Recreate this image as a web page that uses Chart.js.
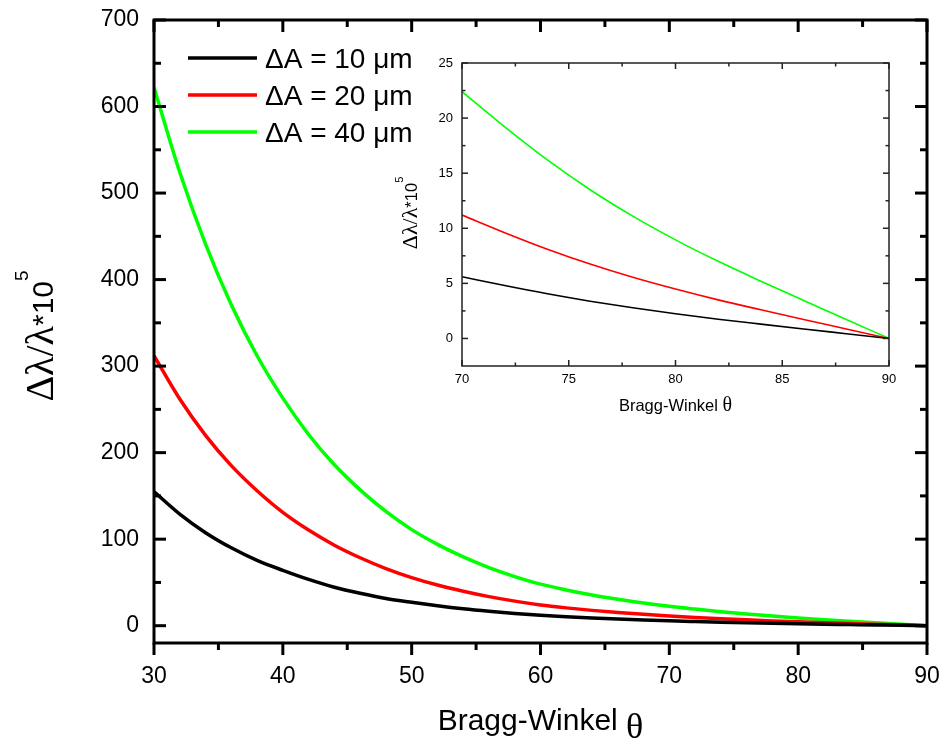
<!DOCTYPE html>
<html>
<head>
<meta charset="utf-8">
<script src="https://cdn.jsdelivr.net/npm/chart.js@4"></script>
<style>
  body { margin: 0; background: #fff; }
  #wrap { position: relative; width: 943px; height: 749px; }
  #mainChart { position: absolute; left: 0; top: 0; }
  #insetChart { position: absolute; left: 395px; top: 50px; }
</style>
</head>
<body>
<div id="wrap">
  <canvas id="mainChart" width="943" height="749"></canvas>
  <canvas id="insetChart" width="530" height="370"></canvas>
</div>
<script>
// Bragg angle in degrees
const theta = [30, 32, 34, 36, 38, 40, 42, 44, 46, 48, 50, 52, 54, 56, 58, 60, 62, 64, 66, 68, 70, 72, 74, 76, 78, 80, 82, 84, 86, 88, 90];

// dlambda/lambda * 10^5 for the three deltaA values
const dA10 = [155, 129, 107.5, 90, 75.5, 64, 53.5, 44.5, 37.5, 31.5, 27, 23, 19.5, 16.6, 14.1, 12, 10.3, 8.9, 7.65, 6.55, 5.6, 4.8, 4.05, 3.38, 2.78, 2.24, 1.75, 1.3, 0.86, 0.43, 0];
const dA20 = [312, 262, 220, 185, 156, 131, 110.5, 93, 78.5, 66, 55.6, 47, 39.8, 33.6, 28.4, 24, 20.6, 17.7, 15.3, 13.1, 11.2, 9.6, 8.1, 6.75, 5.55, 4.48, 3.5, 2.6, 1.72, 0.86, 0];
const dA40 = [622, 524, 441, 371, 312, 263, 221, 186, 157, 132, 111, 94, 79.5, 67.2, 56.8, 48, 41.3, 35.5, 30.6, 26.2, 22.4, 19.2, 16.2, 13.5, 11.1, 8.95, 7.0, 5.2, 3.45, 1.72, 0];

const seriesLabels = ['ΔA = 10 μm', 'ΔA = 20 μm', 'ΔA = 40 μm'];
const seriesColors = ['#000000', '#ff0000', '#00ff00'];

// ticks for the main plot
const xTicks = [30, 40, 50, 60, 70, 80, 90];
const xMinor = [35, 45, 55, 65, 75, 85];
const yTicks = [0, 100, 200, 300, 400, 500, 600, 700];
const yMinor = [50, 150, 250, 350, 450, 550, 650];

// ticks for the inset
const insetXTicks = [70, 75, 80, 85, 90];
const insetXMinor = [72.5, 77.5, 82.5, 87.5];
const insetYTicks = [0, 5, 10, 15, 20, 25];
const insetYMinor = [2.5, 7.5, 12.5, 17.5, 22.5];

function toPoints(xs, ys, fromX) {
  const pts = [];
  xs.forEach((x, i) => { if (x >= fromX) pts.push({ x: x, y: ys[i] }); });
  return pts;
}

// box around the plot plus inner/outer tick marks
const framePlugin = {
  id: 'frame',
  afterDraw(chart, args, o) {
    const { ctx, chartArea: a, scales: { x, y } } = chart;
    ctx.save();
    ctx.strokeStyle = o.color;
    ctx.lineWidth = o.width;
    ctx.lineCap = 'square';
    ctx.strokeRect(a.left, a.top, a.right - a.left, a.bottom - a.top);
    ctx.lineCap = 'butt';
    const line = (x1, y1, x2, y2) => { ctx.beginPath(); ctx.moveTo(x1, y1); ctx.lineTo(x2, y2); ctx.stroke(); };
    const xDir = o.xOut ? 1 : -1;
    o.xMajor.forEach(v => { const p = x.getPixelForValue(v); line(p, a.bottom, p, a.bottom + xDir * o.major); line(p, a.top, p, a.top + o.major); });
    o.xMinor.forEach(v => { const p = x.getPixelForValue(v); line(p, a.bottom, p, a.bottom + xDir * o.minor); line(p, a.top, p, a.top + o.minor); });
    o.yMajor.forEach(v => { const p = y.getPixelForValue(v); line(a.left, p, a.left + o.major, p); line(a.right, p, a.right - o.major, p); });
    o.yMinor.forEach(v => { const p = y.getPixelForValue(v); line(a.left, p, a.left + o.minor, p); line(a.right, p, a.right - o.minor, p); });
    ctx.restore();
  }
};

// text made of pieces in different fonts (greek letters, superscripts)
function drawRich(ctx, parts, x, y, rotate) {
  ctx.save();
  ctx.translate(x, y);
  if (rotate) ctx.rotate(-Math.PI / 2);
  let total = 0;
  parts.forEach(p => { ctx.font = p.font; p.w = ctx.measureText(p.text).width; total += p.w; });
  let cx = -total / 2;
  ctx.textBaseline = 'alphabetic';
  ctx.fillStyle = '#000';
  parts.forEach(p => { ctx.font = p.font; ctx.fillText(p.text, cx, p.dy || 0); cx += p.w; });
  ctx.restore();
}

const titlePlugin = {
  id: 'titles',
  afterDraw(chart, args, o) {
    const { ctx, chartArea: a } = chart;
    const s = o.size;
    drawRich(ctx, [
      { text: 'Bragg-Winkel ', font: s + 'px "Liberation Sans"' },
      { text: 'θ', font: Math.round(s * 1.2) + 'px "Liberation Serif"', dy: o.thetaDy }
    ], (a.left + a.right) / 2, o.xBase, false);
    drawRich(ctx, [
      { text: 'Δλ/λ', font: Math.round(s * 1.33) + 'px "Liberation Serif"' },
      { text: '*10', font: s + 'px "Liberation Sans"' },
      { text: '5', font: Math.round(s * 0.64) + 'px "Liberation Sans"', dy: -s * 0.85 }
    ], o.yBase, o.yCenter, true);
  }
};

// legend drawn inside the plot area
const legendPlugin = {
  id: 'innerLegend',
  afterDraw(chart, args, o) {
    if (!o.show) return;
    const ctx = chart.ctx;
    ctx.save();
    ctx.font = o.size + 'px "Liberation Sans"';
    ctx.textBaseline = 'alphabetic';
    chart.data.datasets.forEach((ds, i) => {
      const yy = o.y + i * o.gap;
      ctx.strokeStyle = ds.borderColor;
      ctx.lineWidth = 3.5;
      ctx.beginPath();
      ctx.moveTo(o.x, yy);
      ctx.lineTo(o.x + o.len, yy);
      ctx.stroke();
      ctx.fillStyle = '#000';
      ctx.fillText(ds.label, o.x + o.len + 8, yy + o.size * 0.36);
    });
    ctx.restore();
  }
};

function makeDatasets(fromX, width) {
  return [dA10, dA20, dA40].map((ys, i) => ({
    label: seriesLabels[i],
    data: toPoints(theta, ys, fromX),
    borderColor: seriesColors[i],
    backgroundColor: seriesColors[i],
    borderWidth: width,
    pointRadius: 0,
    fill: false,
    tension: 0.4,
    cubicInterpolationMode: 'monotone'
  }));
}

function scale(min, max, ticks, fontSize, pad, fit) {
  return {
    type: 'linear',
    min: min,
    max: max,
    grid: { display: false, drawTicks: false },
    border: { display: false },
    afterBuildTicks: s => { s.ticks = ticks.map(v => ({ value: v })); },
    afterFit: s => {
      fit(s);
      // let layout.padding alone decide the plot edges
      s.paddingLeft = s.paddingRight = s.paddingTop = s.paddingBottom = 0;
    },
    ticks: { padding: pad, color: '#000', font: { family: 'Liberation Sans', size: fontSize } }
  };
}

new Chart(document.getElementById('mainChart'), {
  type: 'line',
  data: { datasets: makeDatasets(30, 3.5) },
  options: {
    responsive: false,
    animation: false,
    layout: { padding: { top: 20, right: 16, left: 0, bottom: 0 } },
    plugins: {
      legend: { display: false },
      tooltip: { enabled: false },
      frame: { color: '#000', width: 3, major: 12, minor: 7, xOut: true, xMajor: xTicks, xMinor: xMinor, yMajor: yTicks, yMinor: yMinor },
      titles: { size: 30, xBase: 730, thetaDy: 8, yBase: 53, yCenter: 336 },
      innerLegend: { show: true, x: 188, y: 58, gap: 37, len: 69, size: 28 }
    },
    scales: {
      x: scale(30, 90, xTicks, 23, 20, s => { s.height = 106; }),
      y: scale(-20, 700, yTicks, 23, 15, s => { s.width = 154; })
    }
  },
  plugins: [framePlugin, titlePlugin, legendPlugin]
});

new Chart(document.getElementById('insetChart'), {
  type: 'line',
  data: { datasets: makeDatasets(70, 1.6) },
  options: {
    responsive: false,
    animation: false,
    layout: { padding: { top: 13, right: 36, left: 0, bottom: 0 } },
    plugins: {
      legend: { display: false },
      tooltip: { enabled: false },
      frame: { color: '#222', width: 1.5, major: 6, minor: 3.5, xOut: false, xMajor: insetXTicks, xMinor: insetXMinor, yMajor: insetYTicks, yMinor: insetYMinor },
      titles: { size: 16.5, xBase: 361, thetaDy: 0, yBase: 22, yCenter: 163 },
      innerLegend: { show: false }
    },
    scales: {
      x: scale(70, 90, insetXTicks, 13, 6, s => { s.height = 54; }),
      y: scale(-2.5, 25, insetYTicks, 13, 9, s => { s.width = 67; })
    }
  },
  plugins: [framePlugin, titlePlugin, legendPlugin]
});
</script>
</body>
</html>
